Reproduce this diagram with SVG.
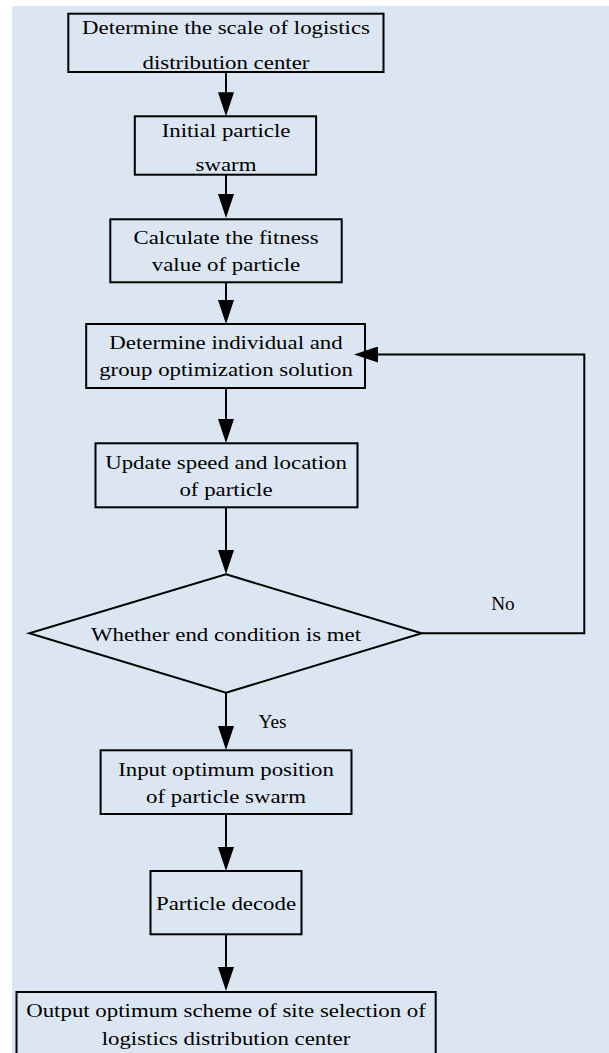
<svg xmlns="http://www.w3.org/2000/svg" width="609" height="1053" viewBox="0 0 609 1053">
<style>
.bg{fill:#DCE6F2}
.box{fill:none;stroke:#000;stroke-width:2}
.con{fill:none;stroke:#000;stroke-width:2}
.t{font-family:"Liberation Serif","Times New Roman",serif;font-size:19.2px;fill:#000;text-anchor:middle}
.lb{font-family:"Liberation Serif","Times New Roman",serif;font-size:19.2px;fill:#000;text-anchor:middle}
</style>
<defs>
<marker id="ah" markerWidth="24" markerHeight="16" refX="0" refY="8" orient="auto" markerUnits="userSpaceOnUse">
<path d="M0,0 L24,8 L0,16 Z" fill="#000"/>
</marker>
</defs>
<rect class="bg" x="12" y="6" width="597" height="1047"/>
<g id="connectors">
<line class="con" x1="226" y1="72" x2="226" y2="92.3" marker-end="url(#ah)"/>
<line class="con" x1="226" y1="174.7" x2="226" y2="194" marker-end="url(#ah)"/>
<line class="con" x1="226" y1="282.3" x2="226" y2="300" marker-end="url(#ah)"/>
<line class="con" x1="226" y1="388" x2="226" y2="419" marker-end="url(#ah)"/>
<line class="con" x1="226" y1="507.3" x2="226" y2="550" marker-end="url(#ah)"/>
<line class="con" x1="226" y1="692.7" x2="226" y2="726" marker-end="url(#ah)"/>
<line class="con" x1="226" y1="814" x2="226" y2="847" marker-end="url(#ah)"/>
<line class="con" x1="226" y1="934.3" x2="226" y2="967" marker-end="url(#ah)"/>
<polyline class="con" points="421.7,633.3 584.3,633.3 584.3,354.5 378,354.5" marker-end="url(#ah)"/>
<text class="lb" x="503" y="610">No</text>
<text class="lb" x="272.5" y="728.3">Yes</text>
</g>
<g id="n1">
<rect class="box" x="68.3" y="13.7" width="315.2" height="58.3"/>
<text class="t" transform="translate(226 33.5) scale(1.19 1)">Determine the scale of logistics</text>
<text class="t" transform="translate(226 69) scale(1.19 1)">distribution center</text>
</g>
<g id="n2">
<rect class="box" x="134.8" y="116.3" width="181.3" height="58.4"/>
<text class="t" transform="translate(226 137.3) scale(1.19 1)">Initial particle</text>
<text class="t" transform="translate(226 170.7) scale(1.19 1)">swarm</text>
</g>
<g id="n3">
<rect class="box" x="110.3" y="219.3" width="231.4" height="63"/>
<text class="t" transform="translate(226 244.3) scale(1.19 1)">Calculate the fitness</text>
<text class="t" transform="translate(226 271) scale(1.19 1)">value of particle</text>
</g>
<g id="n4">
<rect class="box" x="86.2" y="324" width="278.8" height="64"/>
<text class="t" transform="translate(226 348.8) scale(1.19 1)">Determine individual and</text>
<text class="t" transform="translate(226 375.5) scale(1.19 1)">group optimization solution</text>
</g>
<g id="n5">
<rect class="box" x="95.5" y="443.3" width="262" height="64"/>
<text class="t" transform="translate(226 469.3) scale(1.19 1)">Update speed and location</text>
<text class="t" transform="translate(226 496) scale(1.19 1)">of particle</text>
</g>
<g id="n6">
<polygon class="box" points="226,574.3 421.7,633.3 226,692.7 29.3,633.3"/>
<text class="t" transform="translate(226 640.5) scale(1.19 1)">Whether end condition is met</text>
</g>
<g id="n7">
<rect class="box" x="100.6" y="750.3" width="250.9" height="63.7"/>
<text class="t" transform="translate(226 776) scale(1.19 1)">Input optimum position</text>
<text class="t" transform="translate(226 802.7) scale(1.19 1)">of particle swarm</text>
</g>
<g id="n8">
<rect class="box" x="150.5" y="871" width="151" height="63.3"/>
<text class="t" transform="translate(226 910) scale(1.19 1)">Particle decode</text>
</g>
<g id="n9">
<rect class="box" x="16.5" y="992" width="419.2" height="66"/>
<text class="t" transform="translate(226 1016.7) scale(1.19 1)">Output optimum scheme of site selection of</text>
<text class="t" transform="translate(226 1045) scale(1.19 1)">logistics distribution center</text>
</g>
</svg>
